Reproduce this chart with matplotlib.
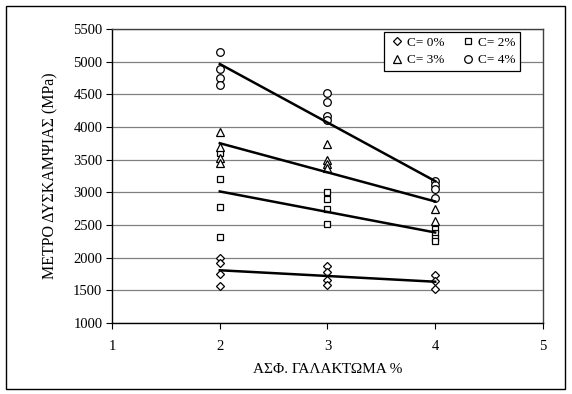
import matplotlib
matplotlib.use("Agg")
import matplotlib.pyplot as plt
from matplotlib.patches import Rectangle
import numpy as np

plt.rcParams['font.family'] = ['Liberation Serif', 'DejaVu Serif']

# emulsion content (%) and stiffness modulus (MPa), one list per cement content
x_c0 = [2, 2, 2, 2, 3, 3, 3, 3, 4, 4, 4]
y_c0 = [1999, 1923, 1745, 1562, 1877, 1776, 1658, 1582, 1740, 1640, 1515]
x_c2 = [2, 2, 2, 2, 3, 3, 3, 3, 4, 4, 4, 4]
y_c2 = [3597, 3199, 2771, 2316, 3000, 2898, 2750, 2515, 2440, 2380, 2300, 2250]
x_c3 = [2, 2, 2, 2, 3, 3, 3, 3, 4, 4]
y_c3 = [3928, 3699, 3530, 3454, 3740, 3490, 3440, 3370, 2750, 2570]
x_c4 = [2, 2, 2, 2, 3, 3, 3, 3, 4, 4, 4, 4]
y_c4 = [5144, 4888, 4745, 4643, 4520, 4378, 4170, 4110, 3180, 3112, 3047, 2909]

series = [
    ("C= 0%", x_c0, y_c0, 'D', 4.5),
    ("C= 2%", x_c2, y_c2, 's', 5),
    ("C= 3%", x_c3, y_c3, '^', 6),
    ("C= 4%", x_c4, y_c4, 'o', 5.5),
]

fig = plt.figure(figsize=(5.72, 3.94), dpi=100)
ax = fig.add_axes([0.196, 0.180, 0.753, 0.746])

# outer chart border
fig.patches.append(Rectangle((0.011, 0.012), 0.976, 0.972, transform=fig.transFigure,
                             fill=False, edgecolor='black', linewidth=1.0))

handles = {}
for label, xs, ys, mk, ms in series:
    h, = ax.plot(xs, ys, linestyle='none', marker=mk, markersize=ms,
                 markerfacecolor='white', markeredgecolor='black',
                 markeredgewidth=0.9, label=label, zorder=3)
    handles[label] = h
    # linear trendline as in the original spreadsheet chart
    k, b = np.polyfit(xs, ys, 1)
    xt = np.array([min(xs), max(xs)])
    ax.plot(xt, k * xt + b, color='black', linewidth=1.8, zorder=4)

ax.set_xlim(1, 5)
ax.set_ylim(1000, 5500)
ax.set_xticks([1, 2, 3, 4, 5])
ax.set_yticks(np.arange(1000, 5501, 500))
ax.yaxis.grid(True, color='#808080', linewidth=0.9)
ax.set_axisbelow(True)
ax.tick_params(axis='both', direction='out', length=4, width=0.8, labelsize=10.5,
               colors='black')
ax.tick_params(axis='x', pad=8)
ax.tick_params(axis='y', pad=3)

for side in ['left', 'bottom']:
    ax.spines[side].set_color('black')
    ax.spines[side].set_linewidth(1.0)
for side in ['top', 'right']:
    ax.spines[side].set_color('#404040')
    ax.spines[side].set_linewidth(1.0)

ax.set_xlabel("ΑΣΦ. ΓΑΛΑΚΤΩΜΑ %", fontsize=11)
ax.set_ylabel("ΜΕΤΡΟ ΔΥΣΚΑΜΨΙΑΣ (MPa)", fontsize=11.5)
ax.xaxis.set_label_coords(0.5, -0.135)
ax.yaxis.set_label_coords(-0.125, 0.5)

# row-wise order: 0%, 2% on top, 3%, 4% below
order = ["C= 0%", "C= 3%", "C= 2%", "C= 4%"]
leg = ax.legend([handles[o] for o in order], order, ncol=2, loc='upper right',
                bbox_to_anchor=(0.947, 0.99), borderaxespad=0,
                fontsize=9.5, frameon=True, fancybox=False, edgecolor='black',
                framealpha=1, borderpad=0.35, handletextpad=0.15,
                columnspacing=1.2, handlelength=1.2, labelspacing=0.4)
leg.get_frame().set_linewidth(0.9)

fig.savefig("out.png", dpi=100)
